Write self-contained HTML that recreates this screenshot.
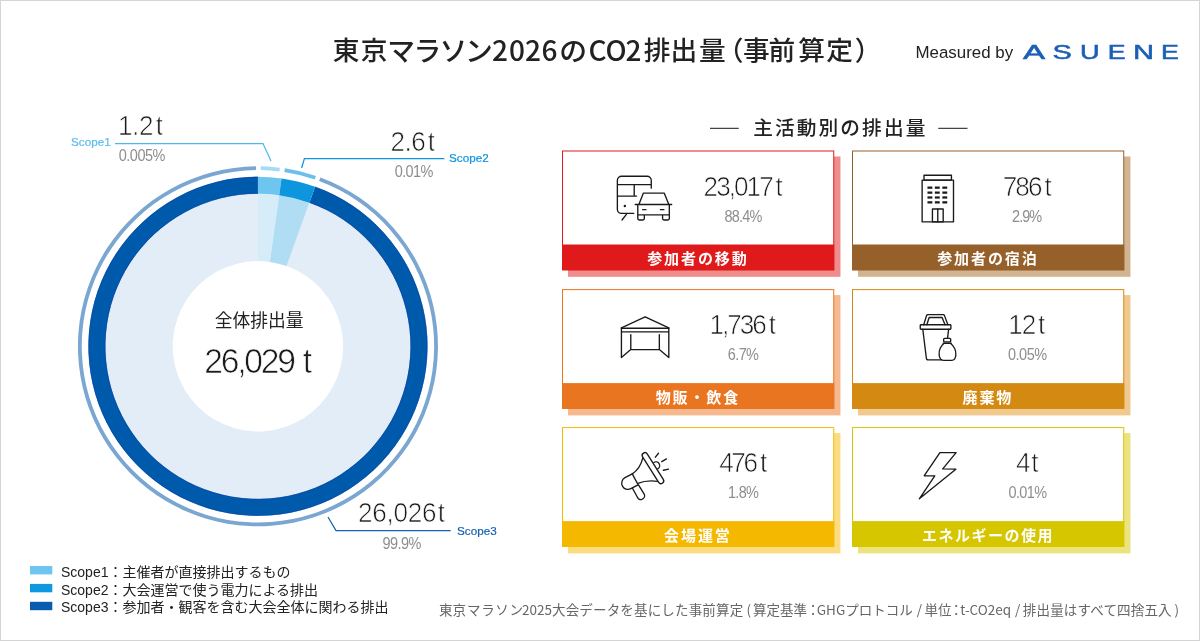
<!DOCTYPE html>
<html lang="ja">
<head>
<meta charset="utf-8">
<title>東京マラソン2026のCO2排出量（事前算定）</title>
<style>
html,body{margin:0;padding:0;background:#fff;}
body{width:1200px;height:641px;overflow:hidden;}
svg{display:block;}
.jp{font-family:"Noto Sans CJK JP","Liberation Sans",sans-serif;}
.en{font-family:"Liberation Sans","Noto Sans CJK JP",sans-serif;}
.num{font-family:"Liberation Sans",sans-serif;fill:#1a1a1a;stroke:#fff;stroke-width:.7px;}
.pct{font-family:"Liberation Sans",sans-serif;fill:#8e8e8e;}
.ico{fill:none;stroke:#1a1a1a;stroke-linejoin:round;stroke-linecap:round;}
</style>
</head>
<body>
<svg width="1200" height="641" viewBox="0 0 1200 641">
<rect x="0.5" y="0.5" width="1199" height="640" fill="#fff" stroke="#d4d4d4"/>
<text class="jp" y="60.3" font-weight="500" fill="#222" font-size="26.7"><tspan x="332.8 360.7" y="60.3" font-size="26.7">東京</tspan><tspan x="387.2 413.6 439.4 465.1" y="61" font-size="27.8">マラソン</tspan><tspan x="492.1 508.9 525.1 541.4" y="61" font-size="28">2026</tspan><tspan x="559.2" y="61" font-size="27.8">の</tspan><tspan x="588.4 605.4 625.6" y="61" font-size="28">CO2</tspan><tspan x="643.8 670.6 699.1 716.8 743.1 768.4 798.3 826.2 854.8" y="60.3" font-size="26.7">排出量（事前算定）</tspan></text>
<text class="en" x="915.5" y="57.6" font-size="16.9" fill="#222">Measured by</text>
<g class="en" aria-label="ASUENE" font-size="20" fill="#1b5fb5" stroke="#1b5fb5" stroke-width="0.55"><text transform="translate(1022.94 58.7) scale(1.659 1)">A</text><text transform="translate(1052.48 58.7) scale(1.450 1)">S</text><text transform="translate(1079.91 58.7) scale(1.356 1)">U</text><text transform="translate(1107.81 58.7) scale(1.338 1)">E</text><text transform="translate(1133.15 58.7) scale(1.432 1)">N</text><text transform="translate(1161.11 58.7) scale(1.338 1)">E</text></g>
<g><path d="M309.42 202.54A152.7 152.7 0 1 1 257.95 193.60L257.95 261.10A85.2 85.2 0 1 0 286.67 266.09Z" fill="#e3edf7"/><path d="M257.95 193.60A152.7 152.7 0 0 1 279.20 195.09L269.81 261.93A85.2 85.2 0 0 0 257.95 261.10Z" fill="#d6ecf9"/><path d="M279.20 195.09A152.7 152.7 0 0 1 309.42 202.54L286.67 266.09A85.2 85.2 0 0 0 269.81 261.93Z" fill="#b1ddf4"/><path d="M315.09 186.72A169.5 169.5 0 1 1 257.95 176.80L257.95 193.70A152.6 152.6 0 1 0 309.39 202.63Z" fill="#005aab"/><path d="M314.99 187.00A169.2 169.2 0 1 1 257.95 177.10M309.51 202.30A152.95 152.95 0 1 1 257.95 193.35" fill="none" stroke="#0a41a6" stroke-width="0.8" opacity="0.75"/><path d="M257.95 176.80A169.5 169.5 0 0 1 281.54 178.45L279.19 195.19A152.6 152.6 0 0 0 257.95 193.70Z" fill="#6ec6f0"/><path d="M281.54 178.45A169.5 169.5 0 0 1 315.09 186.72L309.39 202.63A152.6 152.6 0 0 0 279.19 195.19Z" fill="#0d96de"/><path d="M320.40 177.48A180 180 0 1 1 256.07 166.31L256.10 170.11A176.2 176.2 0 1 0 319.08 181.04Z" fill="#7aa6d2"/><path d="M260.78 166.32A180 180 0 0 1 279.89 167.64L279.42 171.41A176.2 176.2 0 0 0 260.72 170.12Z" fill="#a8d9f5"/><path d="M284.87 168.32A180 180 0 0 1 315.96 175.90L314.73 179.50A176.2 176.2 0 0 0 284.30 172.08Z" fill="#6cbfea"/></g>
<text class="jp" x="259.2" y="327" font-size="17.8" fill="#222" text-anchor="middle">全体排出量</text>
<text class="num" transform="translate(204.31 372.6) scale(0.96 1)" font-size="35" letter-spacing="-2.31">26,029</text><text class="num" transform="translate(302.79 372.6) scale(0.96 1)" font-size="35" letter-spacing="0.00">t</text>
<path d="M115 143.5H263L271 161" fill="none" stroke="#4db8ee" stroke-width="1.25"/><text class="en" x="71" y="146.4" font-size="11.7" fill="#5bbdee" stroke="#5bbdee" stroke-width="0.2">Scope1</text><text class="num" transform="translate(117.91 134.7) scale(0.96 1)" font-size="27.2" letter-spacing="-0.42">1.2<tspan x="39.37">t</tspan></text><text class="pct" transform="translate(118.63 160.6) scale(0.9 1)" font-size="16.1" letter-spacing="-0.50">0.005%</text>
<path d="M301.6 168L304.4 158.5H444.4" fill="none" stroke="#0d93e0" stroke-width="1.25"/><text class="en" x="449" y="162.4" font-size="11.7" fill="#0d93e0" stroke="#0d93e0" stroke-width="0.2">Scope2</text><text class="num" transform="translate(390.39 150.7) scale(0.96 1)" font-size="27.2" letter-spacing="-0.54">2.6<tspan x="38.87">t</tspan></text><text class="pct" transform="translate(394.73 176.6) scale(0.9 1)" font-size="16.1" letter-spacing="-0.67">0.01%</text>
<path d="M328 517L336 530.6H450.7" fill="none" stroke="#1560b5" stroke-width="1.25"/><text class="en" x="457" y="534.7" font-size="11.7" fill="#1560b5" stroke="#1560b5" stroke-width="0.2">Scope3</text><text class="num" transform="translate(358.09 521.5) scale(0.96 1)" font-size="27.2" letter-spacing="-0.31">26,026<tspan x="82.94">t</tspan></text><text class="pct" transform="translate(382.62 549.2) scale(0.9 1)" font-size="16.1" letter-spacing="-0.61">99.9%</text>
<rect x="30" y="566.0" width="22.3" height="8.4" fill="#6ec6f0"/><text x="61" y="576.6" font-size="14" fill="#222"><tspan class="en">Scope1</tspan><tspan class="jp">：主催者が直接排出するもの</tspan></text>
<rect x="30" y="583.9" width="22.3" height="8.4" fill="#0d98e0"/><text x="61" y="594.5" font-size="14" fill="#222"><tspan class="en">Scope2</tspan><tspan class="jp">：大会運営で使う電力による排出</tspan></text>
<rect x="30" y="601.8" width="22.3" height="8.4" fill="#0a5cae"/><text x="61" y="612.4" font-size="14" fill="#222"><tspan class="en">Scope3</tspan><tspan class="jp">：参加者・観客を含む大会全体に関わる排出</tspan></text>
<text class="jp" y="614.5" font-size="13.5" fill="#666"><tspan x="439.0">東京</tspan><tspan x="467.1" letter-spacing="0.6">マラソン</tspan><tspan x="522.1">2025</tspan><tspan x="552.0" letter-spacing="0.17">大会データを基にした事前算定 </tspan><tspan x="746.6">(</tspan><tspan x="753.0">算定基準</tspan><tspan x="806.2">：</tspan><tspan x="816.8">GHGプロトコル </tspan><tspan x="916.8">/ </tspan><tspan x="924.6">単位</tspan><tspan x="949.5">：</tspan><tspan x="960.2">t-CO2eq </tspan><tspan x="1015.1">/ </tspan><tspan x="1022.8" letter-spacing="0.18">排出量はすべて四捨五入</tspan><tspan x="1174.6">)</tspan></text>
<path d="M710 128.3H738.75M938.25 128.3H967.5" stroke="#444" stroke-width="1.2" fill="none"/><text class="jp" x="753.2" y="135" font-size="19.7" font-weight="500" fill="#222" letter-spacing="2.1">主活動別の排出量</text>
<g><rect x="568" y="156.5" width="272.45" height="120.3" fill="#f08c8c"/><rect x="562.5" y="151.0" width="271.25" height="118.8" fill="#fff" stroke="#e01a1a" stroke-width="1"/><rect x="562" y="244.5" width="272.25" height="25.8" fill="#e01a1a"/><text class="jp" x="697.9" y="264.1" font-size="15" font-weight="700" fill="#fff" text-anchor="middle" letter-spacing="1.9">参加者の移動</text><text class="num" transform="translate(703.59 195.7) scale(0.96 1)" font-size="27.2" letter-spacing="-2.03">23,017<tspan x="74.81">t</tspan></text><text class="pct" transform="translate(724.57 221.5) scale(0.9 1)" font-size="16.1" letter-spacing="-0.93">88.4%</text><g transform="translate(608 168) scale(0.09363)" class="ico" stroke-width="14.5"><path d="M462 215V133A45 45 0 0 0 417 88H145A45 45 0 0 0 100 133V440A45 45 0 0 0 145 485H275M100 178H462M280 178V300M100 300H305M200 490L150 555"/><circle cx="180" cy="405" r="13" fill="#1a1a1a" stroke="none"/><path d="M330 390L378 268H600L650 390M290 390H680M318 390V540A15 15 0 0 0 333 555H373A15 15 0 0 0 388 540V500M655 390V540A15 15 0 0 1 640 555H598A15 15 0 0 1 583 540V500M318 500H655M370 445H405M560 445H597"/></g></g>
<g><rect x="858" y="156.5" width="272.45" height="120.3" fill="#d2b491"/><rect x="852.5" y="151.0" width="271.25" height="118.8" fill="#fff" stroke="#96602a" stroke-width="1"/><rect x="852" y="244.5" width="272.25" height="25.8" fill="#96602a"/><text class="jp" x="987.9" y="264.1" font-size="15" font-weight="700" fill="#fff" text-anchor="middle" letter-spacing="1.9">参加者の宿泊</text><text class="num" transform="translate(1002.66 195.7) scale(0.96 1)" font-size="27.2" letter-spacing="-1.92">786<tspan x="43.48">t</tspan></text><text class="pct" transform="translate(1012.07 221.5) scale(0.9 1)" font-size="16.1" letter-spacing="-1.07">2.9%</text><g transform="translate(902 168) scale(0.09363)" class="ico" stroke-width="14.5"><rect x="215" y="130" width="335" height="445"/><rect x="235" y="78" width="293" height="52"/><rect x="272" y="198" width="52" height="24" fill="#1a1a1a" stroke="none"/><rect x="272" y="251" width="52" height="24" fill="#1a1a1a" stroke="none"/><rect x="272" y="303" width="52" height="24" fill="#1a1a1a" stroke="none"/><rect x="272" y="355" width="52" height="24" fill="#1a1a1a" stroke="none"/><rect x="351" y="198" width="52" height="24" fill="#1a1a1a" stroke="none"/><rect x="351" y="251" width="52" height="24" fill="#1a1a1a" stroke="none"/><rect x="351" y="303" width="52" height="24" fill="#1a1a1a" stroke="none"/><rect x="351" y="355" width="52" height="24" fill="#1a1a1a" stroke="none"/><rect x="431" y="198" width="52" height="24" fill="#1a1a1a" stroke="none"/><rect x="431" y="251" width="52" height="24" fill="#1a1a1a" stroke="none"/><rect x="431" y="303" width="52" height="24" fill="#1a1a1a" stroke="none"/><rect x="431" y="355" width="52" height="24" fill="#1a1a1a" stroke="none"/><rect x="325" y="438" width="115" height="137"/><path d="M382 438V575"/></g></g>
<g><rect x="568" y="295.1" width="272.45" height="120.3" fill="#f6b98f"/><rect x="562.5" y="289.6" width="271.25" height="118.8" fill="#fff" stroke="#ea7520" stroke-width="1"/><rect x="562" y="383.1" width="272.25" height="25.8" fill="#ea7520"/><text class="jp" x="697.9" y="402.7" font-size="15" font-weight="700" fill="#fff" text-anchor="middle" letter-spacing="1.9">物販・飲食</text><text class="num" transform="translate(709.51 334.3) scale(0.96 1)" font-size="27.2" letter-spacing="-2.09">1,736<tspan x="61.66">t</tspan></text><text class="pct" transform="translate(727.76 360.1) scale(0.9 1)" font-size="16.1" letter-spacing="-0.66">6.7%</text><g transform="translate(610 307) scale(0.09363)" class="ico" stroke-width="14.5"><path d="M122 222L375 105L628 222M122 265H628M122 222V540L222 455H527L628 540V222M222 295V455M527 295V455"/><path d="M122 226H628" stroke-width="16"/></g></g>
<g><rect x="858" y="295.1" width="272.45" height="120.3" fill="#efc98e"/><rect x="852.5" y="289.6" width="271.25" height="118.8" fill="#fff" stroke="#d48a12" stroke-width="1"/><rect x="852" y="383.1" width="272.25" height="25.8" fill="#d48a12"/><text class="jp" x="987.9" y="402.7" font-size="15" font-weight="700" fill="#fff" text-anchor="middle" letter-spacing="1.9">廃棄物</text><text class="num" transform="translate(1008.31 334.3) scale(0.96 1)" font-size="27.2" letter-spacing="-1.19">12<tspan x="30.83">t</tspan></text><text class="pct" transform="translate(1007.93 360.1) scale(0.9 1)" font-size="16.1" letter-spacing="-0.50">0.05%</text><g transform="translate(902 307) scale(0.09363)" class="ico" stroke-width="14.5"><rect x="195" y="190" width="327" height="48" rx="8"/><path d="M232 190L262 92Q265 82 275 82H440Q450 82 454 92L490 190M265 190L290 112H428L460 190"/><path d="M222 238L260 545A20 20 0 0 0 280 565H425M498 238L487 330"/><rect x="445" y="335" width="75" height="37" rx="10"/><path d="M440 387H526M449 387C420 412 392 455 397 510C400 550 420 570 445 570H530C555 570 573 550 575 510C578 455 548 412 517 387"/></g></g>
<g><rect x="568" y="433.1" width="272.45" height="120.3" fill="#fbdc80"/><rect x="562.5" y="427.6" width="271.25" height="118.8" fill="#fff" stroke="#f5b800" stroke-width="1"/><rect x="562" y="521.1" width="272.25" height="25.8" fill="#f5b800"/><text class="jp" x="697.9" y="540.7" font-size="15" font-weight="700" fill="#fff" text-anchor="middle" letter-spacing="1.9">会場運営</text><text class="num" transform="translate(719.20 472.3) scale(0.96 1)" font-size="27.2" letter-spacing="-2.46">476<tspan x="42.40">t</tspan></text><text class="pct" transform="translate(727.90 498.1) scale(0.9 1)" font-size="16.1" letter-spacing="-0.71">1.8%</text><g transform="translate(610 445) scale(0.09363)" class="ico" stroke-width="14.5"><path d="M350 140C330 220 290 275 238 308M296 410C360 385 440 378 505 388"/><path d="M238 308L160.2 349.2A66 66 0 0 0 222.2 466.2L300 425Z"/><path d="M240 462L290 553A40.6 40.6 0 0 0 368 530L306 428"/><rect x="-29" y="-190" width="58" height="380" rx="29" fill="#fff" transform="translate(458.5 247.5) rotate(-32.2)"/><path d="M470 185A38 38 0 0 1 510 255M485 130L518 88M553 178L603 148M570 270L625 258"/></g></g>
<g><rect x="858" y="433.1" width="272.45" height="120.3" fill="#ece37e"/><rect x="852.5" y="427.6" width="271.25" height="118.8" fill="#fff" stroke="#d6c600" stroke-width="1"/><rect x="852" y="521.1" width="272.25" height="25.8" fill="#d6c600"/><text class="jp" x="987.9" y="540.7" font-size="15" font-weight="700" fill="#fff" text-anchor="middle" letter-spacing="1.5">エネルギーの使用</text><text class="num" transform="translate(1015.90 472.3) scale(0.96 1)" font-size="27.2" letter-spacing="0.00">4<tspan x="15.94">t</tspan></text><text class="pct" transform="translate(1008.43 498.1) scale(0.9 1)" font-size="16.1" letter-spacing="-0.64">0.01%</text><g transform="translate(902 445) scale(0.09363)" class="ico" stroke-width="14.5"><path d="M405 82H578L435 255L575 258L185 575L350 330L238 328Z"/></g></g>
</svg>
</body>
</html>
